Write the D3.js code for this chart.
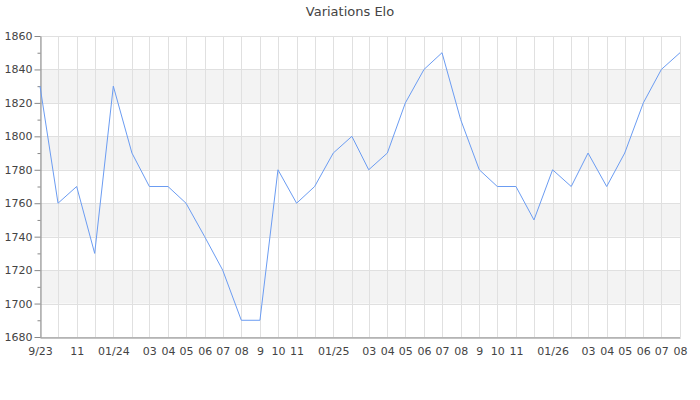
<!DOCTYPE html>
<html><head><meta charset="utf-8">
<script src="https://cdn.jsdelivr.net/npm/d3@7"></script>
<style>body{margin:0;background:#fff}svg{display:block;font-family:"DejaVu Sans",sans-serif}</style>
</head><body>
<svg id="c" width="700" height="400"></svg>
<script>
const months = ["2023-09","2023-10","2023-11","2023-12","2024-01","2024-02","2024-03","2024-04","2024-05","2024-06","2024-07","2024-08","2024-09","2024-10","2024-11","2024-12","2025-01","2025-02","2025-03","2025-04","2025-05","2025-06","2025-07","2025-08","2025-09","2025-10","2025-11","2025-12","2026-01","2026-02","2026-03","2026-04","2026-05","2026-06","2026-07","2026-08"];
const elo = [1830,1760,1770,1730,1830,1790,1770,1770,1760,1740,1720,1690,1690,1780,1760,1770,1790,1800,1780,1790,1820,1840,1850,1810,1780,1770,1770,1750,1780,1770,1790,1770,1790,1820,1840,1850];
const tickLabels = ["9/23","","11","","01/24","","03","04","05","06","07","08","9","10","11","","01/25","","03","04","05","06","07","08","9","10","11","","01/26","","03","04","05","06","07","08"];
const yTicks = [1680,1700,1720,1740,1760,1780,1800,1820,1840,1860];
const title = "Variations Elo";

const svg = d3.select("#c");
const m = {l:40, r:20, t:36, b:63};
const W = 700, H = 400;
const parse = d3.timeParse("%Y-%m");
const dates = months.map(parse);
const x = d3.scaleTime().domain(d3.extent(dates)).range([m.l, W - m.r]);
const y = d3.scaleLinear().domain([1680,1860]).range([H - m.b, m.t]);

// bands
const bands = [];
for (let v = 1700; v < 1860; v += 40) bands.push(v);
svg.append("g").selectAll("rect").data(bands).join("rect")
  .attr("x", m.l).attr("width", W - m.r - m.l)
  .attr("y", d => y(d + 20)).attr("height", d => y(d) - y(d + 20))
  .attr("fill", "#f3f3f3");

// horizontal grid
svg.append("g").selectAll("line").data(yTicks).join("line")
  .attr("x1", m.l).attr("x2", W - m.r)
  .attr("y1", d => Math.round(y(d)) + 0.5).attr("y2", d => Math.round(y(d)) + 0.5)
  .attr("stroke", "#e0e0e0");
// vertical grid
svg.append("g").selectAll("line").data(dates).join("line")
  .attr("x1", d => Math.round(x(d)) + 0.5).attr("x2", d => Math.round(x(d)) + 0.5)
  .attr("y1", m.t).attr("y2", H - m.b)
  .attr("stroke", "#e0e0e0");

// y axis
const minor = d3.range(1690, 1860, 20);
svg.append("g").attr("transform", `translate(${m.l + 0.5},0)`)
  .call(d3.axisLeft(y).tickValues(minor).tickSize(3).tickFormat(""))
  .call(g => g.select(".domain").remove())
  .call(g => g.selectAll("line").attr("stroke", "#888"));
const ya = svg.append("g").attr("transform", `translate(${m.l + 0.5},0)`)
  .call(d3.axisLeft(y).tickValues(yTicks).tickSize(6).tickSizeOuter(0).tickPadding(2).tickFormat(d3.format("d")));
ya.select(".domain").attr("stroke", "#888");
ya.selectAll("line").attr("stroke", "#888");
ya.selectAll("text").attr("font-size", 11).attr("fill", "#444").attr("font-family", "DejaVu Sans");

// x axis
const xa = svg.append("g").attr("transform", `translate(0,${H - m.b + 0.5})`)
  .call(d3.axisBottom(x).tickValues(dates).tickSize(0).tickSizeOuter(0).tickPadding(10)
    .tickFormat((d, i) => tickLabels[i]));
xa.select(".domain").attr("stroke", "#888");
xa.selectAll("text").attr("font-size", 11).attr("fill", "#444").attr("font-family", "DejaVu Sans");

// line
svg.append("path").datum(elo)
  .attr("fill", "none").attr("stroke", "#6b9cf2").attr("stroke-width", 1)
  .attr("d", d3.line().x((d, i) => x(dates[i])).y(d => y(d)));

// title
svg.append("text").attr("x", 350).attr("y", 16).attr("text-anchor", "middle")
  .attr("font-size", 13).attr("fill", "#444").text(title);
</script>
</body></html>
